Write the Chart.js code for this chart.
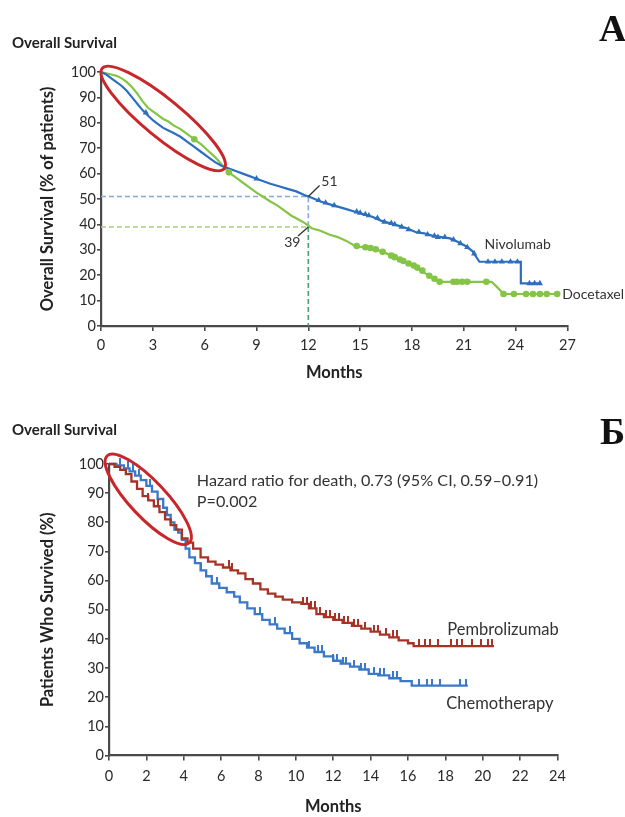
<!DOCTYPE html>
<html><head><meta charset="utf-8">
<script src="https://cdn.jsdelivr.net/npm/chart.js@4/dist/chart.umd.min.js"></script>
<style>
html,body{margin:0;padding:0;background:#fff;width:625px;height:817px;overflow:hidden;position:relative;font-family:Lato,sans-serif}
canvas{position:absolute;left:0}
#ca{top:0}
#cb{top:400px}
.h{position:absolute;font-weight:bold;color:#222;font-size:15px;line-height:15px;white-space:nowrap}
.lt{position:absolute;font-family:"Liberation Serif",serif;font-weight:bold;font-size:38px;line-height:38px;color:#111}
</style></head><body>
<canvas id="ca" width="625" height="400"></canvas>
<canvas id="cb" width="625" height="417"></canvas>
<div class="h" style="left:12px;top:35px">Overall Survival</div>
<div class="lt" style="left:599px;top:9px">A</div>
<div class="h" style="left:12px;top:422px">Overall Survival</div>
<div class="lt" style="left:600px;top:412px">Б</div>
<script>
// ---------- Panel A data (months, % surviving) ----------
const xTicksA = [0,3,6,9,12,15,18,21,24,27];
const yTicks = [0,10,20,30,40,50,60,70,80,90,100];
const nivoT = [0,0.3,0.6,0.9,1.2,1.5,1.8,2.1,2.4,2.7,3.0,3.3,3.6,3.9,4.2,4.6,5.0,5.4,5.8,6.2,6.6,7.0,7.4,7.8,8.2,8.6,9.0,9.4,9.8,10.3,10.8,11.3,11.8,12.2,12.7,13.2,13.7,14.2,14.7,15.2,15.7,16.2,16.7,17.2,17.7,18.2,18.7,19.2,19.7,20.2,20.7,21.1,21.5,21.9,24.3,24.3,25.4];
const nivoS = [100,99,97.5,96,94.5,92.5,90,87.5,85,83,81,79.5,78,77,76,74.5,72.5,70.5,68.5,66.5,64.5,63,62,61,60,59,58,57,56,55,54,53,51.5,50.5,49,48,47,46,45,44,43,41.5,40.5,39.5,38.5,37,36.5,35.5,35,34.5,33,31.5,29.5,25.3,25.3,16.8,16.8];
const nivoCensT = [2.6,9.0,12.6,13.0,13.5,14.8,15.0,15.3,15.5,16.0,16.4,16.8,17.0,17.4,17.8,18.4,18.9,19.3,19.5,19.9,20.4,20.8,21.2,21.6,22.4,22.8,23.2,23.7,24.1,24.8,25.1,25.4];
const nivoCensS = [84,58,49.5,48.5,47.5,45,44.5,44,43.5,42.5,41,40.5,40,39,38,37,36,35.5,35,35,34,32.5,31,28.5,25.3,25.3,25.3,25.3,25.3,16.8,16.8,16.8];
const doceT = [0,0.3,0.6,0.9,1.2,1.5,1.8,2.1,2.4,2.7,3.0,3.3,3.6,3.9,4.2,4.6,5.0,5.4,5.8,6.2,6.6,7.0,7.4,7.8,8.2,8.6,9.0,9.4,9.8,10.2,10.6,11.0,11.4,11.8,12.2,12.7,13.2,13.7,14.2,14.7,15.2,15.7,16.2,16.7,17.2,17.7,18.2,18.7,19.2,19.6,22.6,22.9,23.3,26.5];
const doceS = [100,99.5,99,98.5,97.5,96,94,91.5,88.5,86,84.5,83,81.5,80.5,79,77.5,75.5,73.5,71.5,69,66.5,63.5,60.5,58.5,56.5,54.5,52.5,50.8,49,47.5,45.5,43.5,42,40.5,38.5,37.5,36,35,33.5,31.5,31,30.5,29.5,28,26.5,25,23,21,19,17.4,17.4,15.5,12.6,12.6];
const doceCensT = [5.4,7.4,14.8,15.3,15.6,15.9,16.3,16.8,17.0,17.3,17.5,17.8,18.1,18.3,18.6,19.0,19.3,19.6,20.4,20.6,20.9,21.2,22.3,23.3,23.9,24.6,25.0,25.4,25.8,26.4];
const doceCensS = [73.5,60.5,31.5,31,30.7,30.2,29.2,27.7,27.1,26.2,25.6,24.6,23.8,23,21.8,19.8,18.6,17.4,17.4,17.4,17.4,17.4,17.4,12.6,12.6,12.6,12.6,12.6,12.6,12.6];
const refMonth = 12, refNivo = 51, refDoce = 39;

// ---------- Panel B data ----------
const xTicksB = [0,2,4,6,8,10,12,14,16,18,20,22,24];
const pembroT = [0,0.3,0.6,0.9,1.2,1.5,1.8,2.1,2.4,2.7,3.0,3.3,3.6,3.9,4.2,4.5,4.9,5.3,5.7,6.1,6.5,6.9,7.3,7.7,8.1,8.5,8.9,9.3,9.8,10.3,10.7,11.1,11.5,12.0,12.5,13.0,13.5,14.0,14.5,15.0,15.5,16.0,16.3,20.6];
const pembroS = [100,99,98,96.5,94,91.5,89,87.5,85.5,83.5,81,79,77.5,74.5,73,71,68,66.5,65.5,64.5,63.5,62.5,60.5,59,57,55.5,54.5,53.5,52.5,52,50.5,48.5,47.5,46.5,45.5,44.5,43.5,42.5,41.5,40.5,39.5,38.5,37.5,37.5];
const pembroCensT = [1.5,2.1,2.6,6.4,6.6,10.4,10.6,10.8,11.0,11.3,11.6,11.8,12.1,12.3,12.6,12.8,13.1,13.3,13.7,14.2,14.4,14.8,15.2,15.4,16.6,16.9,17.2,17.6,18.3,18.6,18.9,19.4,19.9,20.3,20.5];
const pembroCensS = [91.5,87.5,85.5,64.5,63.5,52,52,50.5,50.5,48.5,47.5,47.5,46.5,46.5,45.5,45.5,44.5,44.5,43.5,42.5,42.5,41.5,40.5,40.5,37.5,37.5,37.5,37.5,37.5,37.5,37.5,37.5,37.5,37.5,37.5];
const chemoT = [0,0.4,0.8,1.1,1.4,1.7,2.0,2.3,2.6,2.9,3.1,3.3,3.5,3.7,3.9,4.1,4.3,4.6,4.9,5.2,5.5,5.9,6.3,6.7,7.0,7.4,7.8,8.2,8.6,9.0,9.4,9.8,10.2,10.6,11.0,11.5,12.0,12.4,12.9,13.4,13.9,14.4,15.0,15.6,16.2,19.2];
const chemoS = [100,99.5,98.5,97.5,96,94.5,92.5,90.5,88,85,82.5,80,77.5,76.5,74,71,68,66,63.5,61.5,59,57.5,56,54.5,52.5,50.5,48.5,46.5,45,43.5,42,40,38.5,37,35.5,34,32.5,31.5,30.5,29.5,28,27.5,26.5,25.5,24,24];
const chemoCensT = [0.6,1.0,1.3,1.6,2.2,4.9,5.8,8.1,8.9,9.7,10.7,11.2,11.4,12.0,12.2,12.5,12.7,13.1,13.5,13.7,14.2,14.5,14.7,15.2,15.4,16.6,17.0,17.3,17.7,18.8,19.1];
const chemoCensS = [99.5,98.5,97.5,96,92.5,63.5,59,48.5,45,42,37,35.5,35.5,32.5,32.5,31.5,31.5,30.5,29.5,29.5,28,27.5,27.5,26.5,26.5,24,24,24,24,24,24];

// ---------- helpers ----------
const pts = (xs, ys) => xs.map((v, i) => ({x: v, y: ys[i]}));
const FONT = 'Lato, "Open Sans", sans-serif';
const AX = '#4a4a4a';

function tickMark(color) {
  const c = document.createElement('canvas');
  c.width = 2; c.height = 14;
  const g = c.getContext('2d');
  g.fillStyle = color;
  g.fillRect(0, 0, 2, 7);
  return c;
}

const notesPlugin = {
  id: 'notes',
  afterDatasetsDraw(chart, args, o) {
    const {ctx} = chart;
    const sx = chart.scales.x, sy = chart.scales.y;
    const X = v => sx.getPixelForValue(v), Y = v => sy.getPixelForValue(v);
    ctx.save();
    (o.lines || []).forEach(l => {
      ctx.beginPath();
      ctx.strokeStyle = l.color; ctx.lineWidth = l.width;
      ctx.moveTo(X(l.x1), Y(l.y1)); ctx.lineTo(X(l.x2), Y(l.y2));
      ctx.stroke();
    });
    (o.texts || []).forEach(t => {
      ctx.font = t.font; ctx.fillStyle = t.color;
      ctx.textAlign = t.align || 'left'; ctx.textBaseline = 'middle';
      ctx.fillText(t.text, X(t.x), Y(t.y));
    });
    if (o.ellipse) {
      const e = o.ellipse;
      const x1 = X(e.x1), y1 = Y(e.y1), x2 = X(e.x2), y2 = Y(e.y2);
      const rx = Math.hypot(x2 - x1, y2 - y1) / 2 - e.width / 2;
      const rot = Math.atan2(y2 - y1, x2 - x1);
      ctx.beginPath();
      ctx.ellipse((x1 + x2) / 2, (y1 + y2) / 2, rx, e.ry, rot, 0, Math.PI * 2);
      ctx.strokeStyle = e.color; ctx.lineWidth = e.width;
      ctx.stroke();
    }
    ctx.restore();
  }
};

function axisCfg(min, max, ticks, title, isX, fitSize, tickPad, titlePad) {
  return {
    type: 'linear', min, max,
    afterBuildTicks: s => { s.ticks = ticks.map(v => ({value: v})); },
    afterFit: s => { if (isX) s.height = fitSize; else s.width = fitSize; },
    ticks: {color: '#2a2a2a', font: {family: FONT, size: 14.5}, padding: tickPad, autoSkip: false, maxRotation: 0},
    grid: {drawOnChartArea: false, drawTicks: true, tickLength: isX ? 5 : 4, color: AX, lineWidth: 1.6},
    border: {display: true, color: AX, width: 2.2},
    title: {display: true, text: title, color: '#222', font: {family: FONT, size: 16.5, weight: 'bold'}, padding: titlePad}
  };
}

function curve(data, color, w, stepped) {
  return {data, showLine: true, stepped: stepped, borderColor: color, borderWidth: w, tension: 0,
          pointRadius: 0, pointHoverRadius: 0, fill: false, clip: false, order: 1};
}
function marks(data, color, style, r) {
  return {data, showLine: false, pointStyle: style, pointRadius: r, pointHoverRadius: r,
          backgroundColor: color, borderColor: color, borderWidth: 0, clip: false, order: 0};
}
function dashed(data, color) {
  return {data, showLine: true, borderColor: color, borderWidth: 1.6, borderDash: [5, 3],
          pointRadius: 0, fill: false, clip: false, order: 10};
}

const BLUE_A = '#2c6fbe', GREEN_A = '#84c446';
const RED_B = '#a83226', BLUE_B = '#3a78c9';
const ELL = '#c8262b';
const labelFontA = '14px ' + FONT;
const labelFontB = '16.5px ' + FONT;
const noteFontB = '16.2px ' + FONT;

new Chart(document.getElementById('ca'), {
  type: 'scatter',
  data: {datasets: [
    marks(pts(nivoCensT, nivoCensS), BLUE_A, 'triangle', 3.6),
    marks(pts(doceCensT, doceCensS), GREEN_A, 'circle', 3.3),
    curve(pts(nivoT, nivoS), BLUE_A, 2.2, false),
    curve(pts(doceT, doceS), GREEN_A, 2.2, false),
    dashed([{x: 0, y: refNivo}, {x: refMonth, y: refNivo}, {x: refMonth, y: refDoce}], '#86a9de'),
    dashed([{x: 0, y: refDoce}, {x: refMonth, y: refDoce}], '#a2d472'),
    dashed([{x: refMonth, y: refDoce}, {x: refMonth, y: 0}], '#4f9e72')
  ]},
  options: {
    responsive: false, animation: false, devicePixelRatio: 1,
    layout: {padding: {left: 38, right: 57.5, top: 72, bottom: 0}},
    plugins: {legend: {display: false}, tooltip: {enabled: false},
      notes: {
        lines: [
          {x1: refMonth, y1: refNivo, x2: 12.65, y2: 55.3, color: '#333', width: 1.3},
          {x1: refMonth, y1: refDoce, x2: 11.4, y2: 35.4, color: '#333', width: 1.3}
        ],
        texts: [
          {text: String(refNivo), x: 12.75, y: 57, font: labelFontA, color: '#333'},
          {text: String(refDoce), x: 10.6, y: 33, font: labelFontA, color: '#333'},
          {text: 'Nivolumab', x: 22.2, y: 31.9, font: labelFontA, color: '#333'},
          {text: 'Docetaxel', x: 26.7, y: 12.6, font: labelFontA, color: '#333'}
        ],
        ellipse: {x1: 0.0, y1: 101.8, x2: 7.2, y2: 61.6, ry: 19, color: ELL, width: 3}
      }
    },
    scales: {
      x: axisCfg(0, 27, xTicksA, 'Months', true, 74, 6, {top: 0, bottom: 17}),
      y: axisCfg(0, 100, yTicks, 'Overall Survival (% of patients)', false, 63, 1, {top: 0, bottom: 0})
    }
  },
  plugins: [notesPlugin]
});

new Chart(document.getElementById('cb'), {
  type: 'scatter',
  data: {datasets: [
    marks(pts(pembroCensT, pembroCensS), RED_B, tickMark(RED_B), 4),
    marks(pts(chemoCensT, chemoCensS), BLUE_B, tickMark(BLUE_B), 4),
    curve(pts(pembroT, pembroS), RED_B, 2.3, 'before'),
    curve(pts(chemoT, chemoS), BLUE_B, 2.3, 'before')
  ]},
  options: {
    responsive: false, animation: false, devicePixelRatio: 1,
    layout: {padding: {left: 38, right: 67.5, top: 64, bottom: 0}},
    plugins: {legend: {display: false}, tooltip: {enabled: false},
      notes: {
        texts: [
          {text: 'Hazard ratio for death, 0.73 (95% CI, 0.59\u20130.91)', x: 4.7, y: 94.3, font: noteFontB, color: '#333'},
          {text: 'P=0.002', x: 4.7, y: 87.1, font: noteFontB, color: '#333'},
          {text: 'Pembrolizumab', x: 18.1, y: 43, font: labelFontB, color: '#333'},
          {text: 'Chemotherapy', x: 18.05, y: 17.7, font: labelFontB, color: '#333'}
        ],
        ellipse: {x1: -0.15, y1: 103.2, x2: 4.35, y2: 72.6, ry: 18, color: ELL, width: 3}
      }
    },
    scales: {
      x: axisCfg(0, 24, xTicksB, 'Months', true, 61.5, 7, {top: 0, bottom: 0}),
      y: axisCfg(0, 100, yTicks, 'Patients Who Survived (%)', false, 71, 1, {top: 0, bottom: 0})
    }
  },
  plugins: [notesPlugin]
});
</script>
</body></html>
